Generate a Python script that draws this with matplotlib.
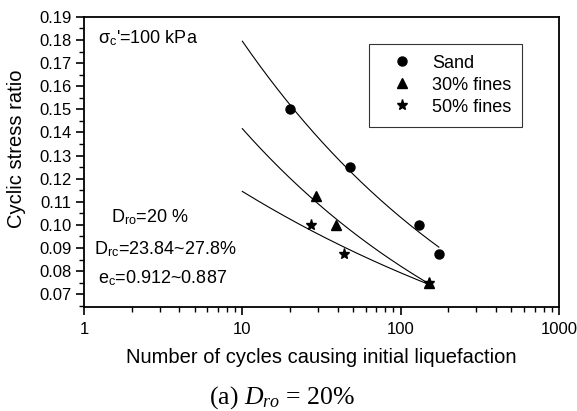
import numpy as np
import matplotlib
matplotlib.use("Agg")
import matplotlib.pyplot as plt
from matplotlib.ticker import FixedLocator, NullFormatter, MultipleLocator, FormatStrFormatter

plt.rcParams['font.family'] = ['Liberation Sans', 'DejaVu Sans']
plt.rcParams['mathtext.fontset'] = 'custom'
plt.rcParams['mathtext.rm'] = 'Liberation Sans'
plt.rcParams['mathtext.it'] = 'Liberation Serif:italic'

# Data
sand_N = [20, 48, 130, 174]
sand_csr = [0.150, 0.125, 0.100, 0.0875]
f30_N = [29, 39, 150]
f30_csr = [0.1125, 0.100, 0.075]
f50_N = [27, 44, 150]
f50_csr = [0.100, 0.0875, 0.075]
series_labels = ["Sand", "30% fines", "50% fines"]
fit_start = 10

fig = plt.figure(figsize=(5.77, 4.11), dpi=100)
ax = fig.add_axes([0.1455, 0.253, 0.8235, 0.706])

markers = ['o', '^', '*']
msizes = [6.5, 7, 8]
for (N, c), m, ms, lab in zip([(sand_N, sand_csr), (f30_N, f30_csr), (f50_N, f50_csr)],
                              markers, msizes, series_labels):
    N = np.array(N, float); c = np.array(c, float)
    b, a = np.polyfit(np.log(N), np.log(c), 1)
    xs = np.logspace(np.log10(fit_start), np.log10(N.max()), 200)
    ax.plot(xs, np.exp(a) * xs ** b, color='black', lw=0.8, zorder=2)
    ax.plot(N, c, linestyle='none', marker=m, ms=ms, color='black', label=lab, zorder=3)

ax.set_xscale('log')
ax.set_xlim(1, 1000)
ax.set_ylim(0.0645, 0.19)
ax.set_xticks([1, 10, 100, 1000])
ax.set_xticklabels(['1', '10', '100', '1000'])
ax.xaxis.set_minor_locator(FixedLocator([k * 10 ** d for d in range(0, 3) for k in range(2, 10)]))
ax.xaxis.set_minor_formatter(NullFormatter())
ax.yaxis.set_major_locator(FixedLocator(np.round(np.arange(0.07, 0.1901, 0.01), 2)))
ax.yaxis.set_major_formatter(FormatStrFormatter('%.2f'))
ax.yaxis.set_minor_locator(MultipleLocator(0.005))

for s in ax.spines.values():
    s.set_linewidth(1.3)
ax.tick_params(which='major', direction='out', length=6, width=1.2, labelsize=12, pad=3)
ax.tick_params(axis='x', which='major', pad=5)
ax.tick_params(which='minor', direction='out', length=3.5, width=1.0)

fig.text(321 / 577, 1 - 357 / 411, 'Number of cycles causing initial liquefaction',
         fontsize=14.5, ha='center', va='center')
fig.text(17 / 577, 1 - 149 / 411, 'Cyclic stress ratio', fontsize=14.5, rotation=90,
         ha='center', va='center')

leg = ax.legend(loc='upper left', bbox_to_anchor=(0.599, 0.907), frameon=True, fancybox=False,
                edgecolor='black', fontsize=13, handletextpad=0.4, borderpad=0.6,
                labelspacing=0.28, handlelength=2.5, borderaxespad=0)
leg.get_frame().set_linewidth(0.8)

ax.text(0.029, 0.928, r"σ$_{\mathrm{c}}$'=100 kPa", transform=ax.transAxes, fontsize=13, va='center')
ax.text(0.057, 0.310, r"D$_{\mathrm{ro}}$=20 %", transform=ax.transAxes, fontsize=13, va='center')
ax.text(0.021, 0.200, r"D$_{\mathrm{rc}}$=23.84~27.8%", transform=ax.transAxes, fontsize=13, va='center')
ax.text(0.029, 0.100, r"e$_{\mathrm{c}}$=0.912~0.887", transform=ax.transAxes, fontsize=13, va='center')

fig.text(0.489, 0.032, r"(a) $D_{ro}$ = 20%", family='Liberation Serif', fontsize=18.5,
         ha='center', va='center')

fig.savefig('out.png', dpi=100)
